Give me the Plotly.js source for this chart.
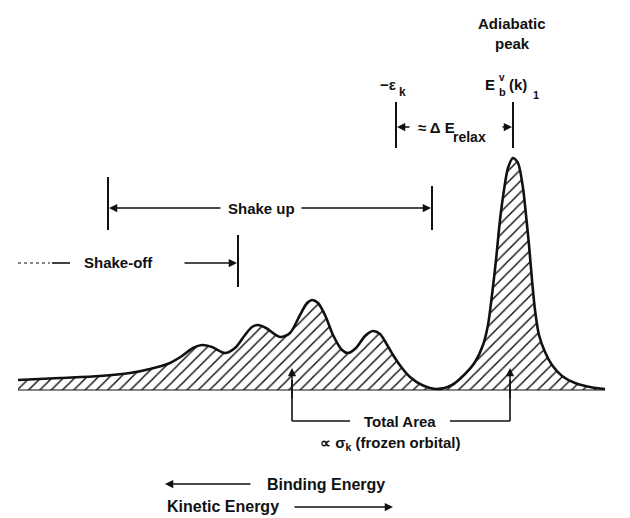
<!DOCTYPE html>
<html><head><meta charset="utf-8">
<script src="https://cdn.plot.ly/plotly-3.0.1.min.js"></script>
<style>html,body{margin:0;padding:0;background:#fff}</style>
</head><body><div id="chart" style="width:630px;height:518px"></div>
<script>
// Schematic photoelectron spectrum: energy position (left = higher binding energy) and intensity
const energy = [18, 60, 100, 130, 150, 170, 182, 193, 202, 212, 225, 235, 245, 252, 258, 266, 280, 290, 300, 307, 312, 318, 325, 333, 342, 348, 356, 365, 373, 380, 386, 393, 402, 410, 422, 437, 452, 465, 475, 483, 488, 492, 496, 500, 504, 508, 513, 518, 523, 526, 529, 532, 535, 539, 545, 552, 562, 575, 590, 605];
const intensity = [10, 12, 14, 17, 21, 27, 34, 42, 45, 43, 37, 42, 55, 63, 65, 62, 53, 57, 75, 87, 90, 87, 75, 55, 40, 37, 42, 54, 59, 56, 47, 35, 22, 13, 5, 1, 5, 16, 28, 45, 65, 95, 130, 170, 200, 222, 232, 227, 202, 175, 145, 110, 80, 55, 38, 25, 14, 7, 3, 1];

const labelTop = ["Adiabatic", "peak"];
const labelShakeUp = "Shake up";
const labelShakeOff = "Shake-off";
const labelArea = "Total Area";
const labelArea2 = "\u221D \u03C3<sub>k</sub> (frozen orbital)";
const labelBE = "Binding Energy";
const labelKE = "Kinetic Energy";

const BASE = 390;               // baseline in page pixels
const Y = py => BASE - py;      // page pixel row -> intensity units
const FONT = {family: "Liberation Sans, Arial, sans-serif", size: 15, color: "#111"};
const LC = "#111";

const trace = {
  x: energy, y: intensity, type: "scatter", mode: "lines",
  line: {color: LC, width: 2.6, shape: "spline", smoothing: 0.8},
  fill: "tozeroy", fillcolor: "#fff",
  fillpattern: {shape: "/", size: 8, solidity: 0.18, fgcolor: "#111", bgcolor: "#fff"},
  hoverinfo: "skip"
};
const baseline = {x: [18, 605], y: [0, 0], type: "scatter", mode: "lines",
  line: {color: LC, width: 1}, hoverinfo: "skip"};

function vline(x, y0, y1, w) { return {type: "line", xref: "x", yref: "y", x0: x, x1: x, y0: Y(y0), y1: Y(y1), line: {color: LC, width: w || 2}}; }
function hline(x0, x1, y, w, dash) { return {type: "line", xref: "x", yref: "y", x0: x0, x1: x1, y0: Y(y), y1: Y(y), line: {color: LC, width: w || 1.3, dash: dash || "solid"}}; }

const shapes = [
  vline(108, 177, 230), vline(432, 186, 230),
  vline(238, 235, 287),
  vline(396, 102, 148), vline(513, 102, 148),
  vline(292, 421, 380, 1.6), vline(510, 421, 380, 1.6),
  hline(292, 350, 421, 1.6), hline(450, 510, 421, 1.6),
  hline(18, 50, 263, 1.2, "dot"), hline(52, 70, 263, 1.6)
];

function arrow(xh, yh, xt, yt) {
  return {x: xh, y: Y(yh), ax: xt, ay: Y(yt), xref: "x", yref: "y", axref: "x", ayref: "y",
    text: "", showarrow: true, arrowhead: 2, arrowsize: 1.1, arrowwidth: 1.5, arrowcolor: LC, standoff: 0};
}
function txt(t, x, py, anchor, size) {
  return {x: x, y: Y(py), xref: "x", yref: "y", text: "<b>" + t + "</b>", showarrow: false,
    xanchor: anchor || "center", yanchor: "middle",
    font: Object.assign({}, FONT, size ? {size: size} : {})};
}

const annotations = [
  txt(labelTop[0], 512, 23), txt(labelTop[1], 512, 43),
  txt("\u2212\u03B5", 378, 84, "left"), txt("k", 397, 92, "left", 12),
  txt("E", 483, 84, "left"), txt("v", 497, 77, "left", 10), txt("b", 497, 92, "left", 11),
  txt("(k)", 507, 84, "left"), txt("1", 531, 95, "left", 11),
  txt("\u2248 \u0394 E", 416, 127, "left"), txt("relax", 451, 137, "left", 14),
  arrow(397, 127, 411, 127), arrow(512, 127, 501, 127),
  txt(labelShakeUp, 261, 208),
  arrow(109, 208, 222, 208), arrow(431, 208, 300, 208),
  txt(labelShakeOff, 82, 262, "left"),
  arrow(237, 263, 183, 263),
  arrow(292, 368, 292, 400), arrow(510, 368, 510, 400),
  txt(labelArea, 400, 421),
  txt(labelArea2, 318, 443, "left"),
  arrow(165, 484, 252, 484), txt(labelBE, 265, 484, "left", 16),
  txt(labelKE, 165, 506, "left", 16), arrow(393, 507, 293, 507)
];

const layout = {
  width: 630, height: 518, margin: {l: 0, r: 0, t: 0, b: 0},
  paper_bgcolor: "#fff", plot_bgcolor: "#fff", showlegend: false,
  xaxis: {range: [0, 630], visible: false, fixedrange: true},
  yaxis: {range: [Y(518), Y(0)], visible: false, fixedrange: true},
  shapes: shapes, annotations: annotations
};
Plotly.newPlot("chart", [trace, baseline], layout, {staticPlot: true, displayModeBar: false});
</script></body></html>
